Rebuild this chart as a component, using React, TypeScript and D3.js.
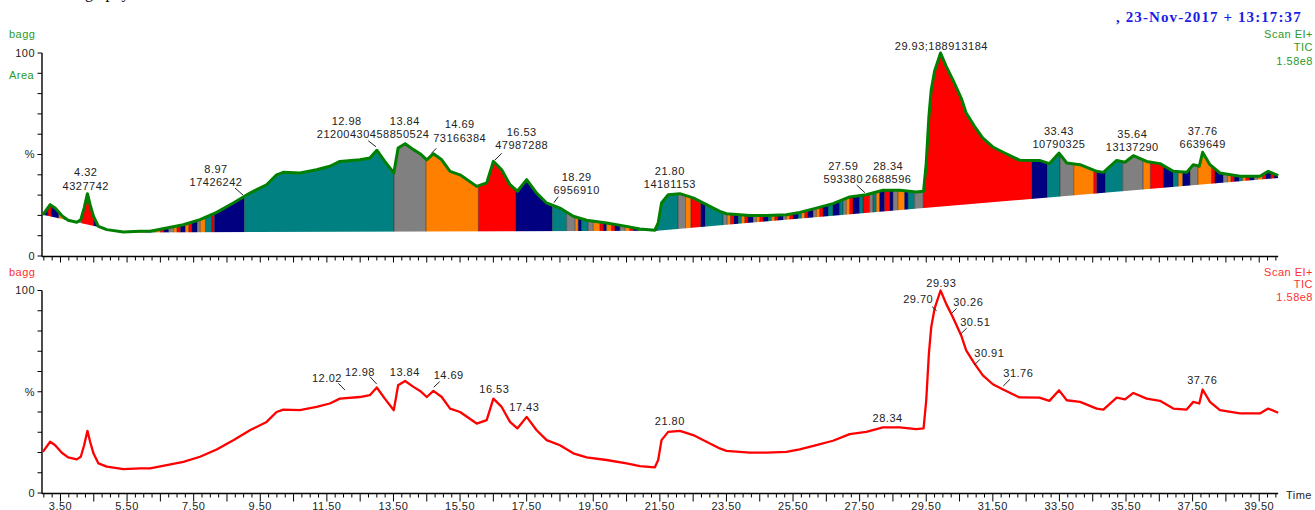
import * as d3 from "d3";
import { useEffect, useRef } from "react";

const W = 1315;
const H = 510;

const GREEN = "#008000";
const GREEN_TEXT = "#2a9a2a";
const RED = "#ff0000";
const RED_TEXT = "#ff3030";
const INK = "#222222";
const FONT = "'Liberation Sans', Arial, sans-serif";

/* ------------------------------------------------------------------ */
/*  Data                                                               */
/* ------------------------------------------------------------------ */

// TIC trace: [retention time (min), % of base peak]
const TIC: [number, number][] = [
  [2.97, 20.3], [3.19, 25.3], [3.34, 23.6], [3.54, 19.9], [3.73, 17.6],
  [3.99, 16.6], [4.11, 17.9], [4.21, 23.6], [4.31, 30.7], [4.39, 25.3],
  [4.49, 19.6], [4.64, 14.6], [4.89, 13.0], [5.39, 11.8], [5.89, 12.2],
  [6.19, 12.2], [6.69, 13.8], [7.19, 15.4], [7.69, 17.9], [8.19, 21.5],
  [8.69, 26.1], [9.19, 31.0], [9.69, 35.1], [9.99, 40.0], [10.19, 41.2],
  [10.69, 40.9], [11.19, 42.5], [11.59, 44.2], [11.89, 46.6], [12.49, 47.4],
  [12.79, 48.3], [13.0, 52.1], [13.24, 46.6], [13.51, 40.9], [13.64, 53.2],
  [13.85, 55.3], [14.1, 52.4], [14.3, 50.4], [14.5, 47.4], [14.7, 50.4],
  [14.95, 47.4], [15.2, 41.7], [15.5, 40.0], [16.0, 34.3], [16.3, 36.0],
  [16.5, 46.6], [16.75, 42.5], [17.0, 35.1], [17.22, 31.9], [17.5, 37.6],
  [17.8, 31.0], [18.1, 26.1], [18.5, 23.6], [18.9, 19.6], [19.3, 17.6],
  [19.9, 16.3], [20.5, 14.6], [20.9, 13.3], [21.35, 12.7], [21.45, 16.3],
  [21.55, 26.1], [21.75, 30.2], [22.1, 30.7], [22.5, 28.6], [22.9, 25.3],
  [23.3, 22.0], [23.5, 20.8], [24.2, 19.9], [24.7, 19.9], [25.3, 20.3],
  [25.7, 21.5], [26.2, 23.6], [26.7, 25.8], [27.2, 29.1], [27.7, 30.2],
  [28.2, 32.4], [28.7, 32.4], [29.2, 31.5], [29.42, 31.9], [29.5, 45.8],
  [29.58, 68.8], [29.65, 81.9], [29.75, 91.0], [29.93, 100], [30.1, 93.4],
  [30.3, 86.8], [30.55, 77.8], [30.7, 70.4], [30.95, 63.9], [31.2, 58.1],
  [31.5, 53.7], [31.81, 51.1], [32.3, 47.2], [32.9, 47.1], [33.2, 45.5],
  [33.49, 50.7], [33.72, 45.8], [34.12, 45.0], [34.62, 41.7], [34.82, 41.2],
  [35.22, 47.1], [35.47, 46.2], [35.72, 49.4], [36.12, 46.6], [36.52, 45.5],
  [36.92, 41.7], [37.32, 41.2], [37.52, 45.0], [37.7, 44.2], [37.8, 51.1],
  [38.02, 45.0], [38.32, 40.9], [38.92, 39.3], [39.52, 39.3], [39.77, 41.7],
  [40.07, 39.6],
];

// integration baseline of the upper panel
const BASELINE: [number, number][] = [
  [2.97, 20.3], [5.4, 11.6], [21.42, 12.5], [40.07, 38.4],
];

// integrated slices: [start, end, colour code]
const SLICES: [number, number, string][] = [
  [2.97, 3.12, "N"], [3.12, 3.22, "R"], [3.22, 3.45, "N"], [3.45, 3.6, "O"],
  [3.6, 3.85, "N"], [3.85, 4.0, "R"], [4.0, 4.14, "G"], [4.14, 4.5, "R"],
  [4.5, 4.68, "N"], [4.68, 4.85, "T"], [4.85, 5.0, "G"], [5.0, 5.15, "O"],
  [5.15, 5.3, "R"], [5.3, 5.45, "N"], [5.45, 5.6, "T"], [5.6, 5.75, "G"],
  [5.75, 5.9, "O"], [5.9, 6.05, "R"], [6.05, 6.2, "N"], [6.2, 6.35, "T"],
  [6.35, 6.5, "O"], [6.5, 6.6, "R"], [6.6, 6.75, "N"], [6.75, 6.9, "G"],
  [6.9, 7.0, "O"], [7.0, 7.1, "R"], [7.1, 7.25, "N"], [7.25, 7.35, "O"],
  [7.35, 7.45, "R"], [7.45, 7.6, "N"], [7.6, 7.7, "G"], [7.7, 7.85, "O"],
  [7.85, 8.05, "T"], [8.05, 8.12, "R"], [8.12, 9.02, "N"], [9.02, 13.52, "T"],
  [13.52, 14.48, "G"], [14.48, 16.05, "O"], [16.05, 17.18, "R"], [17.18, 18.27, "N"],
  [18.27, 18.7, "T"], [18.7, 18.95, "G"], [18.95, 19.05, "O"], [19.05, 19.15, "N"],
  [19.15, 19.35, "T"], [19.35, 19.5, "G"], [19.5, 19.7, "O"], [19.7, 19.8, "R"],
  [19.8, 19.9, "N"], [19.9, 20.05, "O"], [20.05, 20.15, "R"], [20.15, 20.3, "N"],
  [20.3, 20.45, "G"], [20.45, 20.6, "O"], [20.6, 20.7, "R"], [20.7, 20.85, "N"],
  [20.85, 21.0, "T"], [21.0, 21.15, "O"], [21.15, 21.3, "R"], [21.3, 21.42, "N"],
  [21.42, 22.05, "T"], [22.05, 22.27, "G"], [22.27, 22.43, "O"], [22.43, 22.73, "R"],
  [22.73, 22.86, "N"], [22.86, 23.4, "T"], [23.4, 23.52, "G"], [23.52, 23.62, "O"],
  [23.62, 23.72, "R"], [23.72, 23.85, "N"], [23.85, 23.95, "T"], [23.95, 24.05, "O"],
  [24.05, 24.15, "R"], [24.15, 24.3, "N"], [24.3, 24.4, "G"], [24.4, 24.5, "O"],
  [24.5, 24.6, "R"], [24.6, 24.75, "N"], [24.75, 24.85, "T"], [24.85, 24.95, "O"],
  [24.95, 25.05, "R"], [25.05, 25.2, "N"], [25.2, 25.3, "G"], [25.3, 25.4, "O"],
  [25.4, 25.5, "R"], [25.5, 25.65, "N"], [25.65, 25.75, "T"], [25.75, 25.85, "O"],
  [25.85, 25.95, "R"], [25.95, 26.1, "N"], [26.1, 26.2, "G"], [26.2, 26.3, "O"],
  [26.3, 26.4, "R"], [26.4, 26.55, "N"], [26.55, 26.7, "T"], [26.7, 26.9, "N"],
  [26.9, 27.0, "T"], [27.0, 27.1, "G"], [27.1, 27.2, "O"], [27.2, 27.3, "R"],
  [27.3, 27.5, "N"], [27.5, 27.6, "T"], [27.6, 27.8, "R"], [27.8, 27.9, "G"],
  [27.9, 28.0, "T"], [28.0, 28.1, "O"], [28.1, 28.25, "N"], [28.25, 28.4, "R"],
  [28.4, 28.5, "N"], [28.5, 28.65, "G"], [28.65, 28.85, "O"], [28.85, 28.95, "N"],
  [28.95, 29.15, "T"], [29.15, 29.41, "G"], [29.41, 32.67, "R"], [32.67, 33.13, "N"],
  [33.13, 33.52, "T"], [33.52, 33.93, "G"], [33.93, 34.53, "O"], [34.53, 34.62, "R"],
  [34.62, 34.87, "N"], [34.87, 35.4, "T"], [35.4, 36.01, "G"], [36.01, 36.23, "O"],
  [36.23, 36.62, "R"], [36.62, 36.92, "N"], [36.92, 37.07, "T"], [37.07, 37.2, "O"],
  [37.2, 37.42, "N"], [37.42, 37.66, "G"], [37.66, 38.07, "O"], [38.07, 38.17, "R"],
  [38.17, 38.42, "N"], [38.42, 38.55, "G"], [38.55, 38.65, "O"], [38.65, 38.75, "R"],
  [38.75, 38.9, "N"], [38.9, 39.0, "T"], [39.0, 39.1, "O"], [39.1, 39.2, "R"],
  [39.2, 39.35, "N"], [39.35, 39.45, "G"], [39.45, 39.6, "O"], [39.6, 39.7, "R"],
  [39.7, 39.85, "N"], [39.85, 39.95, "R"], [39.95, 40.07, "N"],
];

const SLICE_COLOURS: Record<string, string> = {
  T: "#008080",
  G: "#808080",
  O: "#ff8000",
  R: "#ff0000",
  N: "#000080",
};

// upper panel peak labels: [rt, area text, peak height %]
const AREA_LABELS: [string, string, number][] = [
  ["4.32", "4327742", 30.7],
  ["8.97", "17426242", 28.8],
  ["12.98", "212004304", 52.1],
  ["13.84", "58850524", 55.3],
  ["14.69", "73166384", 50.4],
  ["16.53", "47987288", 46.6],
  ["18.29", "6956910", 25.0],
  ["21.80", "14181153", 30.2],
  ["27.59", "593380", 30.0],
  ["28.34", "2688596", 32.4],
  ["29.93", "188913184", 100],
  ["33.43", "10790325", 50.7],
  ["35.64", "13137290", 49.4],
  ["37.76", "6639649", 51.1],
];

// lower panel peak labels: [rt, peak height %]
const RT_LABELS: [string, number][] = [
  ["12.02", 46.0], ["12.98", 52.1], ["13.84", 55.3], ["14.69", 50.4],
  ["16.53", 46.6], ["17.43", 37.6], ["21.80", 30.7], ["28.34", 32.4],
  ["29.93", 100], ["29.70", 86.5], ["30.26", 87.0], ["30.51", 78.0],
  ["30.91", 64.0], ["31.76", 51.5], ["37.76", 51.1],
];

const X_LABELS = [3.5, 5.5, 7.5, 9.5, 11.5, 13.5, 15.5, 17.5, 19.5, 21.5, 23.5,
  25.5, 27.5, 29.5, 31.5, 33.5, 35.5, 37.5, 39.5];

/* ------------------------------------------------------------------ */
/*  Label layout (pixel offsets from the peak point)                   */
/* ------------------------------------------------------------------ */

type Lay = { dx: number; dy: number; lead?: [number, number, number, number] };

const AREA_LAYOUT: Lay[] = [
  { dx: -2, dy: -8 },
  { dx: -26.6, dy: -15.5, lead: [19, 6, 27, 13] },
  { dx: -29.5, dy: -15.9, lead: [21.6, 6.4, 29.3, 12.4] },
  { dx: -1.8, dy: -9.4 },
  { dx: 26.6, dy: -16, lead: [-23.3, 10.6, -28.3, 15.6] },
  { dx: 27.3, dy: -16.4, lead: [-20, 8.3, -26.7, 15] },
  { dx: 23.7, dy: -15.3, lead: [-18.4, 6.7, -22.7, 12.7] },
  { dx: 0, dy: -10.7 },
  { dx: -19.4, dy: -15.8, lead: [13.4, 5.7, 21.7, 13.4] },
  { dx: 0.6, dy: -10.9 },
  { dx: 0.8, dy: -7 },
  { dx: 1.8, dy: -8.8 },
  { dx: 1.6, dy: -8.4 },
  { dx: 1.4, dy: -8.3 },
];

const RT_LAYOUT: Lay[] = [
  { dx: -17.2, dy: -21.8, lead: [11.3, 5.3, 18, 12] },
  { dx: -16.2, dy: -15.8, lead: [10, 5, 16.7, 12.3] },
  { dx: 0, dy: -9.3 },
  { dx: 15.6, dy: -16, lead: [-9, 6.7, -15, 12.3] },
  { dx: 0, dy: -9.3 },
  { dx: 0, dy: -10.2 },
  { dx: 0, dy: -9.8 },
  { dx: 0, dy: -9.1 },
  { dx: 0.8, dy: -7.2 },
  { dx: -14.7, dy: -18.5, lead: [14, 7.4, 18.4, 11.4] },
  { dx: 16.7, dy: -15.1, lead: [-11.6, 6.6, -16.6, 11.6] },
  { dx: 15.4, dy: -12.8, lead: [-8.6, 6, -14.6, 11.7] },
  { dx: 16.1, dy: -10.1, lead: [-9.3, 6, -15, 11.7] },
  { dx: 16.8, dy: -15.4, lead: [-8.3, 6, -15, 12.7] },
  { dx: 1, dy: -9.5 },
];

/* ------------------------------------------------------------------ */
/*  Component                                                          */
/* ------------------------------------------------------------------ */

export default function App() {
  const svgRef = useRef<SVGSVGElement>(null);

  useEffect(() => {
    const svg = d3.select(svgRef.current);
    svg.selectAll("*").remove();

    const x = d3.scaleLinear().domain([2.96, 40.07]).range([42.5, 1278.2]);
    const yTop = d3.scaleLinear().domain([0, 100]).range([256, 53]);
    const yBot = d3.scaleLinear().domain([0, 100]).range([493, 290.5]);

    const text = (
      g: d3.Selection<any, any, any, any>,
      s: string,
      tx: number,
      ty: number,
      anchor = "middle",
      fill = INK,
    ) =>
      g
        .append("text")
        .attr("x", tx)
        .attr("y", ty)
        .attr("dy", "0.36em")
        .attr("text-anchor", anchor)
        .attr("font-family", FONT)
        .attr("font-size", 11)
        .attr("letter-spacing", 0.5)
        .attr("fill", fill)
        .text(s);

    /* Header texts ----------------------------------------------------- */

    // tail of the page line above the figure, cut by the top edge
    svg
      .append("text")
      .attr("x", 85)
      .attr("y", -2.5)
      .attr("font-family", "'Liberation Serif', 'Times New Roman', serif")
      .attr("font-size", 16)
      .attr("fill", "#000")
      .text("graphy");

    svg
      .append("text")
      .attr("x", 1116)
      .attr("y", 22)
      .attr("font-family", "'Liberation Serif', 'Times New Roman', serif")
      .attr("font-weight", "bold")
      .attr("font-size", 15)
      .attr("letter-spacing", 1.1)
      .attr("fill", "#1c1ce6")
      .text(",  23-Nov-2017 + 13:17:37");

    const hdr = svg.append("g");
    text(hdr, "bagg", 9, 34, "start", GREEN_TEXT);
    text(hdr, "Area", 9, 75, "start", GREEN_TEXT);
    text(hdr, "Scan EI+", 1313, 34, "end", GREEN_TEXT);
    text(hdr, "TIC", 1313, 47.5, "end", GREEN_TEXT);
    text(hdr, "1.58e8", 1313, 61, "end", GREEN_TEXT);
    text(hdr, "bagg", 9, 272.5, "start", RED_TEXT);
    text(hdr, "Scan EI+", 1313, 272.5, "end", RED_TEXT);
    text(hdr, "TIC", 1313, 284.5, "end", RED_TEXT);
    text(hdr, "1.58e8", 1313, 297.5, "end", RED_TEXT);
    text(hdr, "Time", 1312, 495, "end");

    /* Axes ------------------------------------------------------------- */

    const drawAxes = (y: d3.ScaleLinear<number, number>, labels: boolean, majorLen: number, minorLen: number, minorStep: number) => {
      const g = svg.append("g").attr("stroke", "#000");
      const y0 = y(0) + 0.5;
      g.append("line")
        .attr("x1", 42).attr("x2", 42).attr("y1", y(100)).attr("y2", y0)
        .attr("stroke-width", 1.4);
      g.append("line")
        .attr("x1", 42).attr("x2", x(40.07)).attr("y1", y0).attr("y2", y0)
        .attr("stroke-width", 1.4);
      d3.range(0, 101, 10).forEach((p) => {
        g.append("line")
          .attr("x1", 37.5).attr("x2", 42).attr("y1", y(p)).attr("y2", y(p))
          .attr("stroke-width", 1);
      });
      const n = Math.floor((40.07 - 3.0) / minorStep);
      d3.range(0, n + 1).forEach((i) => {
        const t = 3.0 + i * minorStep;
        const r = (((t - 3.5) % 1) + 1) % 1;
        const major = r < 1e-6 || 1 - r < 1e-6;
        g.append("line")
          .attr("x1", x(t)).attr("x2", x(t))
          .attr("y1", y0).attr("y2", y0 + (major ? majorLen : minorLen))
          .attr("stroke-width", 1);
      });
      const lg = svg.append("g");
      text(lg, "100", 35, y(100), "end");
      text(lg, "%", 35, y(50), "end");
      text(lg, "0", 35, y(0), "end");
      if (labels) {
        X_LABELS.forEach((t) => {
          text(lg, t.toFixed(2), x(t), y0 + 12.5);
        });
      }
    };

    drawAxes(yTop, false, 6, 4, 0.25);
    drawAxes(yBot, true, 8, 4, 0.25);

    /* Upper panel: integrated slices ---------------------------------- */

    const line = d3.line<[number, number]>();
    const topPts = TIC.map(([t, p]) => [x(t), yTop(p)] as [number, number]);
    const basePts = BASELINE.slice()
      .reverse()
      .map(([t, p]) => [x(t), yTop(p)] as [number, number]);

    const defs = svg.append("defs");
    defs
      .append("clipPath")
      .attr("id", "areaClip")
      .append("path")
      .attr("d", line(topPts.concat(basePts)) + "Z");

    const fills = svg.append("g").attr("clip-path", "url(#areaClip)");
    SLICES.forEach(([t0, t1, c]) => {
      fills
        .append("rect")
        .attr("x", x(t0))
        .attr("width", Math.max(0.5, x(t1) - x(t0)))
        .attr("y", yTop(100) - 5)
        .attr("height", yTop(0) - yTop(100) + 5)
        .attr("fill", SLICE_COLOURS[c]);
    });
    SLICES.forEach(([t0]) => {
      fills
        .append("line")
        .attr("x1", x(t0)).attr("x2", x(t0))
        .attr("y1", yTop(100)).attr("y2", yTop(0))
        .attr("stroke", "#000")
        .attr("stroke-opacity", 0.55)
        .attr("stroke-width", 0.7);
    });

    svg
      .append("path")
      .attr("d", line(topPts))
      .attr("fill", "none")
      .attr("stroke", GREEN)
      .attr("stroke-width", 3)
      .attr("stroke-linejoin", "round");

    /* Lower panel: TIC trace ------------------------------------------ */

    svg
      .append("path")
      .attr("d", line(TIC.map(([t, p]) => [x(t), yBot(p)] as [number, number])))
      .attr("fill", "none")
      .attr("stroke", RED)
      .attr("stroke-width", 2.3)
      .attr("stroke-linejoin", "round");

    /* Peak labels ------------------------------------------------------ */

    const lab = svg.append("g");
    const leader = (cx: number, cy: number, l: [number, number, number, number]) =>
      lab
        .append("line")
        .attr("x1", cx + l[0]).attr("y1", cy + l[1])
        .attr("x2", cx + l[2]).attr("y2", cy + l[3])
        .attr("stroke", INK)
        .attr("stroke-width", 1);

    AREA_LABELS.forEach(([rt, area, h], i) => {
      const lay = AREA_LAYOUT[i];
      const cx = x(+rt) + lay.dx;
      const cy = yTop(h) + lay.dy;
      if (rt === "29.93") {
        text(lab, `${rt};${area}`, cx, cy);
      } else {
        text(lab, area, cx, cy);
        text(lab, rt, cx + (i === 3 ? 1.8 : 0), cy - 13.3);
      }
      if (lay.lead) leader(cx, cy, lay.lead);
    });

    RT_LABELS.forEach(([rt, h], i) => {
      const lay = RT_LAYOUT[i];
      const cx = x(+rt) + lay.dx;
      const cy = yBot(h) + lay.dy;
      text(lab, rt, cx, cy);
      if (lay.lead) leader(cx, cy, lay.lead);
    });
  }, []);

  return (
    <div style={{ position: "absolute", left: 0, top: 0, background: "#fff" }}>
      <svg ref={svgRef} width={W} height={H} style={{ display: "block" }} />
    </div>
  );
}
